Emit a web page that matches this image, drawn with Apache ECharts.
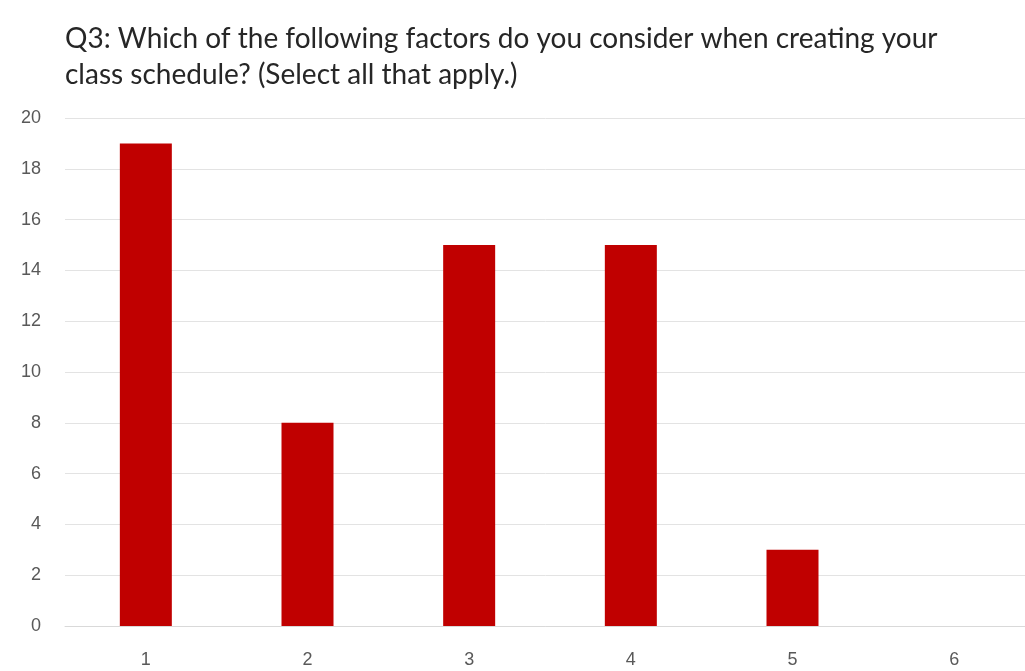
<!DOCTYPE html>
<html>
<head>
<meta charset="utf-8">
<script src="https://cdn.jsdelivr.net/npm/echarts@6/dist/echarts.min.js"></script>
<style>
  html, body { margin: 0; padding: 0; background: #fff; }
  #chart { width: 1025px; height: 671px; }
</style>
</head>
<body>
<div id="chart"></div>
<script>
const categories = ['1', '2', '3', '4', '5', '6'];
const responses = [19, 8, 15, 15, 3, 0];
const titleText = 'Q3: Which of the following factors do you consider when creating your\nclass schedule? (Select all that apply.)';

const chart = echarts.init(document.getElementById('chart'));
chart.setOption({
    animation: false,
    title: {
        text: titleText,
        left: 60,
        top: 16,
        textStyle: {
            fontFamily: 'Lato',
            fontSize: 28,
            fontWeight: 'normal',
            color: '#262626',
            lineHeight: 36
        }
    },
    grid: {
        left: 65,
        top: 118,
        width: 970,
        height: 508,
        outerBoundsMode: 'none',
        containLabel: false
    },
    xAxis: {
        type: 'category',
        data: categories,
        axisLine: { lineStyle: { color: '#d9d9d9' } },
        axisTick: { show: false },
        axisLabel: {
            color: '#595959',
            fontSize: 18,
            fontFamily: 'Liberation Sans',
            margin: 25
        }
    },
    yAxis: {
        type: 'value',
        min: 0,
        max: 20,
        interval: 2,
        axisLine: { show: false },
        axisTick: { show: false },
        splitLine: { lineStyle: { color: '#e3e3e3' } },
        axisLabel: {
            color: '#595959',
            fontSize: 18,
            fontFamily: 'Liberation Sans',
            margin: 24
        }
    },
    series: [{
        type: 'bar',
        data: responses,
        barWidth: 52,
        itemStyle: { color: '#C00000' }
    }]
});
</script>
</body>
</html>
